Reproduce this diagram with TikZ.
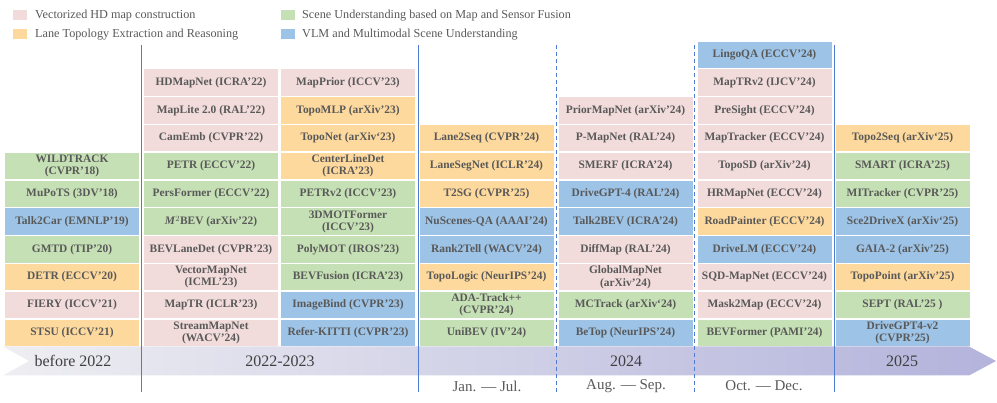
\documentclass[tikz,border=0pt]{standalone}
\usepackage{fontspec}
\setmainfont{Liberation Serif}
\usetikzlibrary{shapes.geometric}
\definecolor{cpink}{HTML}{F2DCDB}
\definecolor{corange}{HTML}{FDD99D}
\definecolor{cgreen}{HTML}{C5E0B4}
\definecolor{cblue}{HTML}{9DC3E6}
\definecolor{txtgray}{HTML}{595959}
\definecolor{lblgray}{HTML}{404040}
\definecolor{linblue}{HTML}{4F7BD0}
\definecolor{bandL}{HTML}{EEEEF2}
\definecolor{bandR}{HTML}{B3B3DC}
\tikzset{
  entry/.style={minimum width=134pt, minimum height=26.3pt, inner sep=0pt, align=center,
    text=txtgray, font=\fontsize{11.4}{12.4}\selectfont\bfseries},
  pk/.style={entry, fill=cpink},
  og/.style={entry, fill=corange},
  gr/.style={entry, fill=cgreen},
  bl/.style={entry, fill=cblue},
  sep/.style={draw=linblue, line width=1pt},
  dsep/.style={draw=linblue, line width=1pt, dash pattern=on 4pt off 3pt},
  bandlbl/.style={text=lblgray, font=\fontsize{16}{18}\selectfont, inner sep=0pt},
  sublbl/.style={text=txtgray, font=\fontsize{15}{17}\selectfont, inner sep=0pt},
  legtxt/.style={text=txtgray, font=\fontsize{12.2}{14}\selectfont, anchor=west, inner sep=0pt},
}
\newcommand\ent[5]{\node[#4] (#1) at (#2,{332.85-27.8*#3}) {#5};}
\begin{document}
\begin{tikzpicture}[x=1pt,y=-1pt]
\useasboundingbox (0,0) rectangle (997,403);
% legend
\fill[cpink] (13,10.5) rectangle (27,20.5);
\fill[corange] (13,29.5) rectangle (27,39.5);
\fill[cgreen] (281,10.5) rectangle (295,20.5);
\fill[cblue] (281,29.5) rectangle (295,39.5);
\node[legtxt] (l1) at (35,15.5) {Vectorized HD map construction};
\node[legtxt] (l2) at (35,34.5) {Lane Topology Extraction and Reasoning};
\node[legtxt] (l3) at (302,15.5) {Scene Understanding based on Map and Sensor Fusion};
\node[legtxt] (l4) at (302,34.5) {VLM and Multimodal Scene Understanding};
% band
\shade[left color=bandL, right color=bandR]
  (3,346.5) -- (969,346.5) -- (996,361) -- (969,375.5) -- (3,375.5) -- (29,361) -- cycle;
\node[bandlbl] (b0) at (73,361) {before 2022};
\node[bandlbl] (b1) at (280,361) {2022-2023};
\node[bandlbl] (b2) at (626,361) {2024};
\node[bandlbl] (b3) at (902,361) {2025};
\node[sublbl] (s1) at (487,386) {Jan. — Jul.};
\node[sublbl] (s2) at (626,386) {Aug. — Sep.};
\node[sublbl] (s3) at (764,386) {Oct. — Dec.};
% separators
\coordinate (v1t) at (141.5,45); \coordinate (v1b) at (141.5,392);
\coordinate (v2t) at (418.5,45); \coordinate (v2b) at (418.5,392);
\coordinate (v3t) at (556,45); \coordinate (v3b) at (556,392);
\coordinate (v4t) at (694.5,45); \coordinate (v4b) at (694.5,392);
\coordinate (v5t) at (834,45); \coordinate (v5b) at (834,392);
\draw[sep] (v1t) -- (v1b);
\draw[sep] (v2t) -- (v2b);
\draw[dsep] (v3t) -- (v3b);
\draw[dsep] (v4t) -- (v4b);
\draw[sep] (v5t) -- (v5b);
% column 0
\ent{a1}{72}{6}{gr}{WILDTRACK\\(CVPR’18)}
\ent{a2}{72}{5}{gr}{MuPoTS (3DV’18)}
\ent{a3}{72}{4}{bl}{Talk2Car (EMNLP’19)}
\ent{a4}{72}{3}{gr}{GMTD (TIP’20)}
\ent{a5}{72}{2}{og}{DETR (ECCV’20)}
\ent{a6}{72}{1}{pk}{FIERY (ICCV’21)}
\ent{a7}{72}{0}{og}{STSU (ICCV’21)}
% column 1
\ent{b1}{211}{9}{pk}{HDMapNet (ICRA’22)}
\ent{b2}{211}{8}{pk}{MapLite 2.0 (RAL’22)}
\ent{b3}{211}{7}{pk}{CamEmb (CVPR’22)}
\ent{b4}{211}{6}{gr}{PETR (ECCV’22)}
\ent{b5}{211}{5}{gr}{PersFormer (ECCV’22)}
\ent{b6}{211}{4}{gr}{\textit{M}$^{2}$BEV (arXiv’22)}
\ent{b7}{211}{3}{pk}{BEVLaneDet (CVPR’23)}
\ent{b8}{211}{2}{pk}{VectorMapNet\\(ICML’23)}
\ent{b9}{211}{1}{pk}{MapTR (ICLR’23)}
\ent{b10}{211}{0}{pk}{StreamMapNet\\(WACV’24)}
% column 2
\ent{c1}{348}{9}{pk}{MapPrior (ICCV’23)}
\ent{c2}{348}{8}{og}{TopoMLP (arXiv’23)}
\ent{c3}{348}{7}{og}{TopoNet (arXiv‘23)}
\ent{c4}{348}{6}{og}{CenterLineDet\\(ICRA’23)}
\ent{c5}{348}{5}{gr}{PETRv2 (ICCV’23)}
\ent{c6}{348}{4}{gr}{3DMOTFormer\\(ICCV’23)}
\ent{c7}{348}{3}{gr}{PolyMOT (IROS’23)}
\ent{c8}{348}{2}{gr}{BEVFusion (ICRA’23)}
\ent{c9}{348}{1}{bl}{ImageBind (CVPR’23)}
\ent{c10}{348}{0}{bl}{Refer-KITTI (CVPR’23)}
% column 3
\ent{d1}{486.5}{7}{og}{Lane2Seq (CVPR’24)}
\ent{d2}{486.5}{6}{og}{LaneSegNet (ICLR’24)}
\ent{d3}{486.5}{5}{og}{T2SG (CVPR’25)}
\ent{d4}{486.5}{4}{bl}{NuScenes-QA (AAAI’24)}
\ent{d5}{486.5}{3}{bl}{Rank2Tell (WACV’24)}
\ent{d6}{486.5}{2}{og}{TopoLogic (NeurIPS’24)}
\ent{d7}{486.5}{1}{gr}{ADA-Track++\\(CVPR’24)}
\ent{d8}{486.5}{0}{gr}{UniBEV (IV’24)}
% column 4
\ent{e1}{625.5}{8}{pk}{PriorMapNet (arXiv’24)}
\ent{e2}{625.5}{7}{pk}{P-MapNet (RAL’24)}
\ent{e3}{625.5}{6}{pk}{SMERF (ICRA’24)}
\ent{e4}{625.5}{5}{bl}{DriveGPT-4 (RAL’24)}
\ent{e5}{625.5}{4}{bl}{Talk2BEV (ICRA’24)}
\ent{e6}{625.5}{3}{pk}{DiffMap (RAL’24)}
\ent{e7}{625.5}{2}{pk}{GlobalMapNet\\(arXiv’24)}
\ent{e8}{625.5}{1}{gr}{MCTrack (arXiv‘24)}
\ent{e9}{625.5}{0}{bl}{BeTop (NeurIPS’24)}
% column 5
\ent{f1}{764.5}{10}{bl}{LingoQA (ECCV’24)}
\ent{f2}{764.5}{9}{pk}{MapTRv2 (IJCV’24)}
\ent{f3}{764.5}{8}{pk}{PreSight (ECCV’24)}
\ent{f4}{764.5}{7}{pk}{MapTracker (ECCV’24)}
\ent{f5}{764.5}{6}{pk}{TopoSD (arXiv’24)}
\ent{f6}{764.5}{5}{pk}{HRMapNet (ECCV’24)}
\ent{f7}{764.5}{4}{og}{RoadPainter (ECCV’24)}
\ent{f8}{764.5}{3}{bl}{DriveLM (ECCV’24)}
\ent{f9}{764.5}{2}{pk}{SQD-MapNet (ECCV’24)}
\ent{f10}{764.5}{1}{pk}{Mask2Map (ECCV’24)}
\ent{f11}{764.5}{0}{gr}{BEVFormer (PAMI’24)}
% column 6
\ent{g1}{902.5}{7}{og}{Topo2Seq (arXiv‘25)}
\ent{g2}{902.5}{6}{gr}{SMART (ICRA’25)}
\ent{g3}{902.5}{5}{gr}{MITracker (CVPR’25)}
\ent{g4}{902.5}{4}{bl}{Sce2DriveX (arXiv‘25)}
\ent{g5}{902.5}{3}{bl}{GAIA-2 (arXiv’25)}
\ent{g6}{902.5}{2}{og}{TopoPoint (arXiv’25)}
\ent{g7}{902.5}{1}{gr}{SEPT (RAL’25 )}
\ent{g8}{902.5}{0}{bl}{DriveGPT4-v2\\(CVPR’25)}
\end{tikzpicture}
\end{document}
